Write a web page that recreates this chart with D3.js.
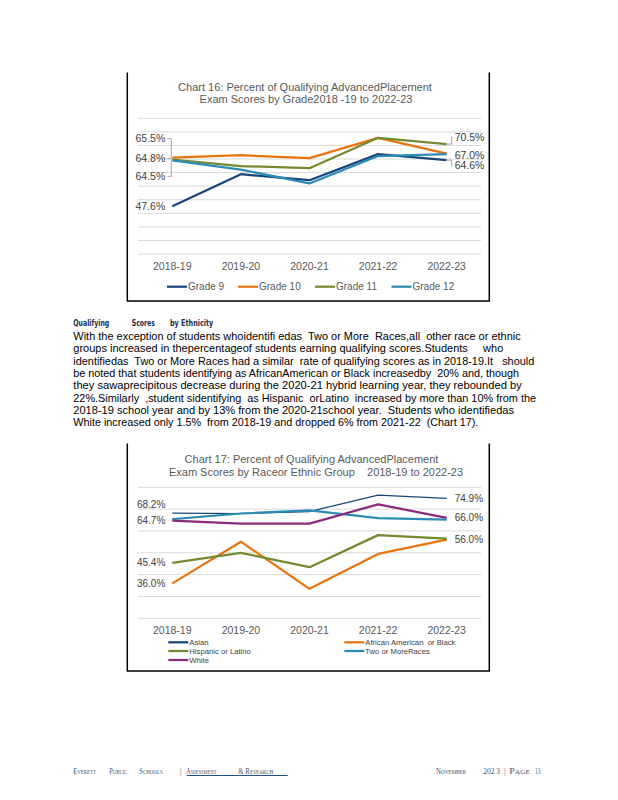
<!DOCTYPE html>
<html>
<head>
<meta charset="utf-8">
<style>
    body { margin: 0; background: #fff; }
    svg { display: block; font-family: "Liberation Sans", Arial, sans-serif; }
    .grid line { stroke: #d9d9d9; stroke-width: 1; }
    .tick-label { fill: #595959; font-size: 10.5px; text-anchor: middle; }
    .title { fill: #595959; font-size: 11px; text-anchor: middle; }
    .dlabel { fill: #404040; }
    .leader { stroke: #a6a6a6; fill: none; stroke-width: 1; }
    .frame { stroke: #000; stroke-width: 1.5; fill: none; }
    .para { font-size: 11px; fill: #000; white-space: pre; }
    .foot { font-family: "Liberation Serif", serif; font-size: 8px; fill: #44546a; font-variant: small-caps; }
</style>
</head>
<body>
<svg width="618" height="800"></svg>
<script src="https://cdn.jsdelivr.net/npm/d3@7"></script>
<script>

// ---- data ----
var years = ["2018-19", "2019-20", "2020-21", "2021-22", "2022-23"];

var gradeNames = ["Grade 9", "Grade 10", "Grade 11", "Grade 12"];
var grade9  = [47.6, 59.4, 57.2, 66.8, 64.6];
var grade10 = [65.5, 66.4, 65.3, 72.8, 67.0];
var grade11 = [64.8, 62.4, 61.6, 72.8, 70.5];
var grade12 = [64.5, 61.1, 56.0, 66.1, 66.8];

var groupNames = ["Asian", "African American  or Black", "Hispanic or Latino", "Two or MoreRaces", "White"];
var asian     = [68.2, 68.0, 68.9, 76.4, 74.9];
var african   = [36.0, 55.1, 33.5, 49.5, 56.0];
var hispanic  = [45.4, 50.0, 43.4, 58.1, 56.5];
var twoOrMore = [65.4, 68.0, 69.4, 65.9, 65.2];
var white     = [64.7, 63.4, 63.4, 72.2, 66.0];

var svg = d3.select("svg");
svg.append("rect").attr("width", 618).attr("height", 800).attr("fill", "#fff");

function fmt(v) { return v.toFixed(1) + "%"; }

// draws one chart; cfg holds geometry, series holds values
function drawChart(cfg, series) {
    var g = svg.append("g");

    var x = d3.scaleBand().domain(years).range([138, 481]);
    var cx = function(d) { return x(d) + x.bandwidth() / 2; };
    var y = d3.scaleLinear().domain(cfg.domain).range([cfg.bottom, cfg.top]);

    // frame (no top edge)
    g.append("path").attr("class", "frame")
        .attr("d", "M127.3," + cfg.frameTop + "V" + cfg.frameBottom + "H489.3V" + cfg.frameTop);

    // title
    cfg.title.forEach(function(t, i) {
        g.append("text").attr("class", "title")
            .attr("x", cfg.titleX[i]).attr("y", cfg.titleY[i])
            .attr("dy", "0.35em").style("white-space", "pre").text(t);
    });

    // gridlines
    g.append("g").attr("class", "grid")
        .selectAll("line").data(d3.range(cfg.domain[0], cfg.domain[1] + 0.01, cfg.step))
        .join("line")
        .attr("x1", 138).attr("x2", 481)
        .attr("y1", function(d) { return y(d); }).attr("y2", function(d) { return y(d); });

    // category labels
    g.append("g").selectAll("text").data(years).join("text")
        .attr("class", "tick-label")
        .attr("x", cx).attr("y", cfg.axisY).attr("dy", "0.35em")
        .text(function(d) { return d; });

    var line = d3.line()
        .x(function(d, i) { return cx(years[i]); })
        .y(function(d) { return y(d); });

    series.forEach(function(s) {
        g.append("path").datum(s.values)
            .attr("fill", "none").attr("stroke", s.color)
            .attr("stroke-width", s.width || 2.25)
            .attr("stroke-linejoin", "round")
            .attr("d", line);
    });

    // data labels
    series.forEach(function(s) {
        (s.labels || []).forEach(function(l) {
            var i = l.end ? years.length - 1 : 0;
            var v = s.values[i];
            var px = cx(years[i]), py = y(v);
            var ty = py + (l.dy || 0);
            var tx = l.end ? px + 8 : px - 7;
            if (l.leader) {
                var lx = l.end ? px + 5 : px - 1;
                g.append("path").attr("class", "leader")
                    .attr("d", l.end
                        ? "M" + (px - 1) + "," + py + "H" + lx + "V" + ty + "H" + (tx - 2)
                        : "M" + (tx + 2) + "," + ty + "H" + lx + "V" + py);
            }
            g.append("text").attr("class", "dlabel")
                .style("font-size", cfg.labelSize + "px")
                .attr("x", tx).attr("y", ty).attr("dy", "0.35em")
                .attr("text-anchor", l.end ? "start" : "end")
                .text(fmt(v));
        });
    });

    // legend
    series.forEach(function(s, i) {
        var p = cfg.legendPos[i];
        g.append("line").attr("x1", p[0]).attr("x2", p[0] + 20)
            .attr("y1", p[1]).attr("y2", p[1])
            .attr("stroke", s.color).attr("stroke-width", 2.25);
        g.append("text").attr("x", p[0] + 21).attr("y", p[1]).attr("dy", "0.35em")
            .style("font-size", cfg.legendSize + "px").attr("fill", cfg.legendColor)
            .style("white-space", "pre")
            .text(s.name);
    });
}

// ---- Chart 16 ----
drawChart({
    domain: [30, 80], step: 5, top: 118.3, bottom: 254,
    frameTop: 72.5, frameBottom: 301,
    title: ["Chart 16: Percent of Qualifying AdvancedPlacement", "Exam Scores by Grade2018 -19 to 2022-23"],
    titleX: [305, 306], titleY: [87.3, 99.5],
    axisY: 266, labelSize: 10.5,
    legendPos: [[167, 286.7], [238, 286.7], [315, 286.7], [391.5, 286.7]],
    legendSize: 10, legendColor: "#595959"
}, [
    { name: gradeNames[0], values: grade9,  color: "#17467a", labels: [{ dy: 0 }, { end: true, dy: 5.5, leader: true }] },
    { name: gradeNames[1], values: grade10, color: "#e8740f", labels: [{ dy: -19, leader: true }, { end: true, dy: 1.5 }] },
    { name: gradeNames[2], values: grade11, color: "#748a31", labels: [{ dy: -1, leader: true }, { end: true, dy: -7, leader: true }] },
    { name: gradeNames[3], values: grade12, color: "#2c8cb4", labels: [{ dy: 16, leader: true }] }
]);

// ---- Chart 17 ----
drawChart({
    domain: [20, 80], step: 10, top: 487.3, bottom: 618.3,
    frameTop: 443.5, frameBottom: 671,
    title: ["Chart 17: Percent of Qualifying AdvancedPlacement", "Exam Scores by Raceor Ethnic Group    2018-19 to 2022-23"],
    titleX: [311.5, 316], titleY: [459.3, 472.3],
    axisY: 630.5, labelSize: 10,
    legendPos: [[168.3, 642.3], [344.3, 642.3], [168.3, 651], [344.3, 651], [168.3, 660]],
    legendSize: 7.7, legendColor: "#404040"
}, [
    { name: groupNames[0], values: asian,     color: "#17467a", width: 1.25, labels: [{ dy: -8.5 }, { end: true }] },
    { name: groupNames[1], values: african,   color: "#e8740f", labels: [{}, { end: true }] },
    { name: groupNames[2], values: hispanic,  color: "#748a31", labels: [{}] },
    { name: groupNames[3], values: twoOrMore, color: "#2c8cb4" },
    { name: groupNames[4], values: white,     color: "#8a2a7e", labels: [{}, { end: true }] }
]);

// ---- page text ----
var head = svg.append("g").attr("font-family", "'Liberation Sans Narrow', 'DejaVu Sans Condensed', sans-serif")
    .attr("font-weight", "bold").attr("font-size", "8.5px").attr("fill", "#1f2d45");
[["Qualifying", 73.3, 36], ["Scores", 131.7, 23.3], ["by Ethnicity", 170, 43.3]].forEach(function(h) {
    head.append("text").attr("x", h[1]).attr("y", 322.7).attr("dy", "0.35em")
        .attr("textLength", h[2]).attr("lengthAdjust", "spacingAndGlyphs").text(h[0]);
});

var paraLines = [
    "With the exception of students whoidentifi edas  Two or More  Races,all  other race or ethnic",
    "groups increased in thepercentageof students earning qualifying scores.Students     who",
    "identifiedas  Two or More Races had a similar  rate of qualifying scores as in 2018-19.It   should",
    "be noted that students identifying as AfricanAmerican or Black increasedby  20% and, though",
    "they sawaprecipitous decrease during the 2020-21 hybrid learning year, they rebounded by",
    "22%.Similarly  ,student sidentifying  as Hispanic  orLatino  increased by more than 10% from the",
    "2018-19 school year and by 13% from the 2020-21school year.  Students who identifiedas",
    "White increased only 1.5%  from 2018-19 and dropped 6% from 2021-22  (Chart 17)."
];
var paraEnds = [520.7, 503.3, 534.3, 519, 521.7, 536, 514, 478.3];
svg.append("g").selectAll("text").data(paraLines).join("text")
    .attr("class", "para")
    .attr("x", 73.3)
    .attr("y", function(d, i) { return 336 + i * 12.33; })
    .attr("dy", "0.35em")
    .attr("textLength", function(d, i) { return paraEnds[i] - 73.3; })
    .attr("lengthAdjust", "spacingAndGlyphs")
    .text(function(d) { return d; });

// ---- footer ----
var foot = svg.append("g");
[["Everett", 73.3, 22.7], ["Public", 109.3, 18], ["Schools", 139.3, 23.4],
 ["Assessment", 186, 30.7], ["& Research", 238.3, 35],
 ["November", 436, 30], ["202 3", 483.3, 16.7], ["Page", 509.3, 20.7], ["13", 535, 5.5]].forEach(function(f) {
    foot.append("text").attr("class", "foot")
        .attr("x", f[1]).attr("y", 771).attr("dy", "0.35em")
        .attr("textLength", f[2]).attr("lengthAdjust", "spacingAndGlyphs")
        .style("white-space", "pre").text(f[0]);
});
[180, 504].forEach(function(xp) {
    foot.append("text").attr("class", "foot").attr("x", xp).attr("y", 771).attr("dy", "0.35em")
        .attr("fill", "#9aa5b1").text("|");
});
foot.append("line").attr("x1", 186.7).attr("x2", 287.7).attr("y1", 775.5).attr("y2", 775.5)
    .attr("stroke", "#1f4e8a").attr("stroke-width", 1);

</script>
</body>
</html>
